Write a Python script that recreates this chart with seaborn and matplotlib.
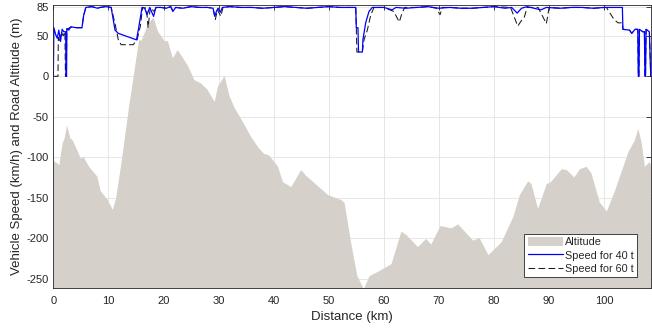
import numpy as np
import pandas as pd
import matplotlib
matplotlib.use("Agg")
import matplotlib.pyplot as plt
from matplotlib.patches import Patch
from matplotlib.lines import Line2D
import seaborn as sns

# Road altitude profile (m) along the route (km)
alt_km = [0, 0.5, 1.0, 1.3, 1.6, 2.0, 2.4, 3.0, 3.4, 4.2, 4.9, 5.4, 6.5, 7.9, 8.5,
          9.8, 10.7, 11.3, 12.2, 13.1, 13.7, 15.5, 15.9, 16.6, 17.2, 18.1, 18.9,
          20.1, 20.7, 21.6, 22.5, 24.4, 25.5, 26.7, 27.9, 29.2, 29.8, 31.0, 31.9,
          32.8, 34.5, 35.8, 37.2, 38.2, 39.1, 40.7, 41.6, 43.1, 44.9, 45.8, 47.8,
          49.8, 52.2, 52.8, 54.0, 55.1, 56.3, 57.3, 59.0, 61.3, 63.1, 64.0, 66.1,
          67.6, 68.5, 70.2, 72.2, 73.4, 76.1, 77.3, 78.9, 81.3, 83.4, 84.6, 86.1,
          86.7, 87.9, 89.5, 90.1, 92.2, 93.1, 94.5, 95.5, 96.7, 97.6, 99.1, 100.4,
          101.9, 104.3, 105.5, 106.1, 106.7, 107.3, 108.2, 108.5]
alt_m = [-104, -106, -109, -95, -82, -75, -60, -76, -78, -90, -101, -99, -112, -123, -141,
         -152, -164, -150, -110, -65, -35, 46, 44, 56, 66, 73, 56,
         44, 44, 23, 33, 13, -4, -8, -16, -31, -12, 1, -24,
         -38, -58, -74, -88, -95, -97, -111, -130, -136, -115, -122, -134,
         -146, -152, -156, -206, -246, -262, -246, -240, -231, -191, -195, -210,
         -200, -207, -184, -187, -182, -202, -199, -220, -204, -173, -146, -129,
         -132, -163, -132, -131, -114, -115, -124, -114, -111, -119, -155, -166,
         -140, -93, -78, -64, -81, -111, -105, -112]

# Vehicle speed (km/h) for the 40 t truck
spd40_km = [0, 0.1, 0.4, 0.7, 1.0, 1.3, 1.6, 1.9, 2.25, 2.3, 2.4, 2.45, 2.8, 3.2,
            4.2, 5.2, 5.5, 5.9, 7.0, 8.0, 8.5, 9.5, 10.5, 11.2, 11.8, 15.1, 15.5,
            16.1, 16.6, 17.0, 17.5, 18.2, 18.6, 19.5, 20.5, 21.3, 21.7, 22.2, 23.5,
            25.0, 26.5, 28.0, 29.0, 29.3, 29.6, 29.9, 30.3, 30.7, 32.0, 34.0, 36.0,
            38.0, 40.0, 42.0, 44.0, 46.0, 48.0, 50.0, 52.0, 54.9, 55.0, 55.3, 55.4,
            56.1, 56.2, 56.7, 57.3, 57.9, 60.0, 61.5, 62.2, 64.0, 66.0, 68.0, 70.0,
            72.0, 74.0, 76.0, 78.0, 80.0, 82.0, 83.2, 84.2, 85.0, 86.0, 88.5, 89.5,
            92.0, 94.0, 96.0, 98.0, 100.0, 103.3, 103.4, 104.6, 105.0, 105.6, 106.1,
            106.2, 106.3, 106.4, 107.0, 107.3, 107.4, 107.5, 107.6, 108.2, 108.45]
spd40 = [0, 60, 52, 47, 57, 43, 58, 55, 55, 0, 0, 59, 57, 61,
         60, 60, 75, 85, 86, 84, 85, 86, 85, 57, 53, 45, 60,
         85, 84, 76, 85, 74, 85, 85, 84, 86, 80, 85, 84,
         86, 85, 85, 84, 74, 80, 84, 79, 85, 86, 85, 85,
         84, 85, 86, 85, 84, 85, 86, 85, 85, 60, 60, 30,
         30, 45, 66, 80, 85, 85, 82, 85, 84, 85, 86, 84,
         85, 84, 84, 85, 86, 84, 85, 78, 84, 86, 82, 85,
         84, 85, 85, 84, 85, 85, 58, 57, 53, 58, 58,
         0, 0, 58, 55, 55, 0, 0, 58, 55, 0]

# Vehicle speed (km/h) for the 60 t truck
spd60_km = [0, 0.85, 0.9, 1.2, 1.4, 1.8, 2.1, 2.2, 2.35, 2.45, 3.2, 4.2, 5.2, 5.5,
            5.9, 7.0, 8.0, 8.5, 9.5, 10.5, 11.2, 11.8, 12.3, 14.5, 15.2, 15.8, 16.2,
            16.9, 17.2, 17.6, 18.3, 18.7, 19.5, 20.5, 21.3, 21.7, 22.2, 23.5, 25.0,
            26.5, 28.0, 29.0, 29.4, 29.8, 30.4, 30.8, 32.0, 34.0, 36.0, 38.0, 40.0,
            42.0, 44.0, 46.0, 48.0, 50.0, 52.0, 54.9, 55.0, 55.1, 56.1, 56.4, 57.0,
            57.6, 58.2, 60.0, 61.8, 62.8, 63.3, 63.8, 66.0, 68.0, 69.5, 70.2, 70.6,
            72.0, 74.0, 76.0, 78.0, 80.0, 83.0, 84.3, 84.9, 85.5, 86.0, 88.0, 89.5,
            90.0, 92.0, 94.0, 96.0, 98.0, 100.4, 101.8, 102.5, 103.3, 103.4, 104.6,
            105.0, 105.6, 106.1, 106.2, 106.3, 106.4, 107.0, 107.3, 107.4, 107.5,
            107.6, 108.2, 108.45]
spd60 = [0, 0, 48, 42, 55, 50, 55, 0, 0, 58, 61, 60, 60, 75,
         85, 86, 84, 85, 86, 85, 65, 45, 39, 39, 45, 62, 85,
         84, 60, 85, 80, 85, 85, 84, 86, 81, 85, 84, 86,
         85, 85, 84, 70, 82, 74, 85, 86, 85, 85, 84, 85,
         86, 85, 84, 85, 86, 85, 85, 60, 30, 30, 45, 57,
         75, 85, 85, 80, 67, 78, 85, 85, 86, 84, 76, 85,
         85, 84, 84, 85, 86, 85, 62, 68, 73, 85, 85, 65,
         85, 84, 85, 85, 84, 85, 70, 66, 66, 58, 57,
         53, 58, 58, 0, 0, 58, 55, 55, 0, 0,
         58, 55, 0]

x_ticks = [0, 10, 20, 30, 40, 50, 60, 70, 80, 90, 100]
y_ticks = [-250, -200, -150, -100, -50, 0, 50, 85]

sns.set_style("white")
plt.rcParams["font.family"] = ["Liberation Sans", "DejaVu Sans"]
plt.rcParams["axes.unicode_minus"] = False

fig = plt.figure(figsize=(6.52, 3.29), dpi=100)
ax = fig.add_axes([0.0818, 0.1237, 0.9167, 0.8611])

x_lim = (0, 108.5)
y_lim = (-261.5, 88)

# light grid behind everything
grid_col = "#E3E3E3"
for xt in x_ticks:
    ax.axvline(xt, color=grid_col, lw=0.6, zorder=0)
for yt in y_ticks:
    ax.axhline(yt, color=grid_col, lw=0.6, zorder=0)

alt_col = "#D5D1CA"
ax.fill_between(alt_km, alt_m, y_lim[0], color=alt_col, lw=0, zorder=1)

df40 = pd.DataFrame({"km": spd40_km, "speed": spd40})
df60 = pd.DataFrame({"km": spd60_km, "speed": spd60})
sns.lineplot(data=df60, x="km", y="speed", ax=ax, color="#1a1a1a", lw=0.75,
             sort=False, estimator=None, zorder=3, dashes=False)
ax.lines[-1].set_dashes((6.4, 3.2))
sns.lineplot(data=df40, x="km", y="speed", ax=ax, color="#0000FF", lw=0.9,
             sort=False, estimator=None, zorder=4)

ax.set_xlim(*x_lim)
ax.set_ylim(*y_lim)
ax.set_xticks(x_ticks)
ax.set_yticks(y_ticks)
ax.tick_params(direction="in", top=True, right=True, length=3.5, width=0.6,
               labelsize=8, colors="#262626")
ax.tick_params(axis="x", pad=5.5)
for s in ax.spines.values():
    s.set_color("#262626")
    s.set_linewidth(0.6)
    s.set_zorder(5)

ax.set_xlabel("Distance (km)", fontsize=9.5, color="#262626", labelpad=4)
ax.set_ylabel("Vehicle Speed (km/h) and Road Altitude (m)", fontsize=9.5,
              color="#262626", labelpad=2)

handles = [Patch(facecolor=alt_col, edgecolor="none", label="Altitude"),
           Line2D([], [], color="#0000FF", lw=0.9, label="Speed for 40 t"),
           Line2D([], [], color="#1a1a1a", lw=0.75, dashes=(6.4, 3.2),
                  label="Speed for 60 t")]
leg = ax.legend(handles=handles, loc="lower right", bbox_to_anchor=(0.9766, 0.0388),
                borderaxespad=0, fontsize=7.8, frameon=True, fancybox=False,
                framealpha=1, edgecolor="#262626", handlelength=3.25,
                handleheight=0.9, handletextpad=0.2, borderpad=0.3,
                labelspacing=0.3)
leg.get_frame().set_linewidth(0.6)
leg.set_zorder(6)

fig.savefig("out.png", dpi=100)
